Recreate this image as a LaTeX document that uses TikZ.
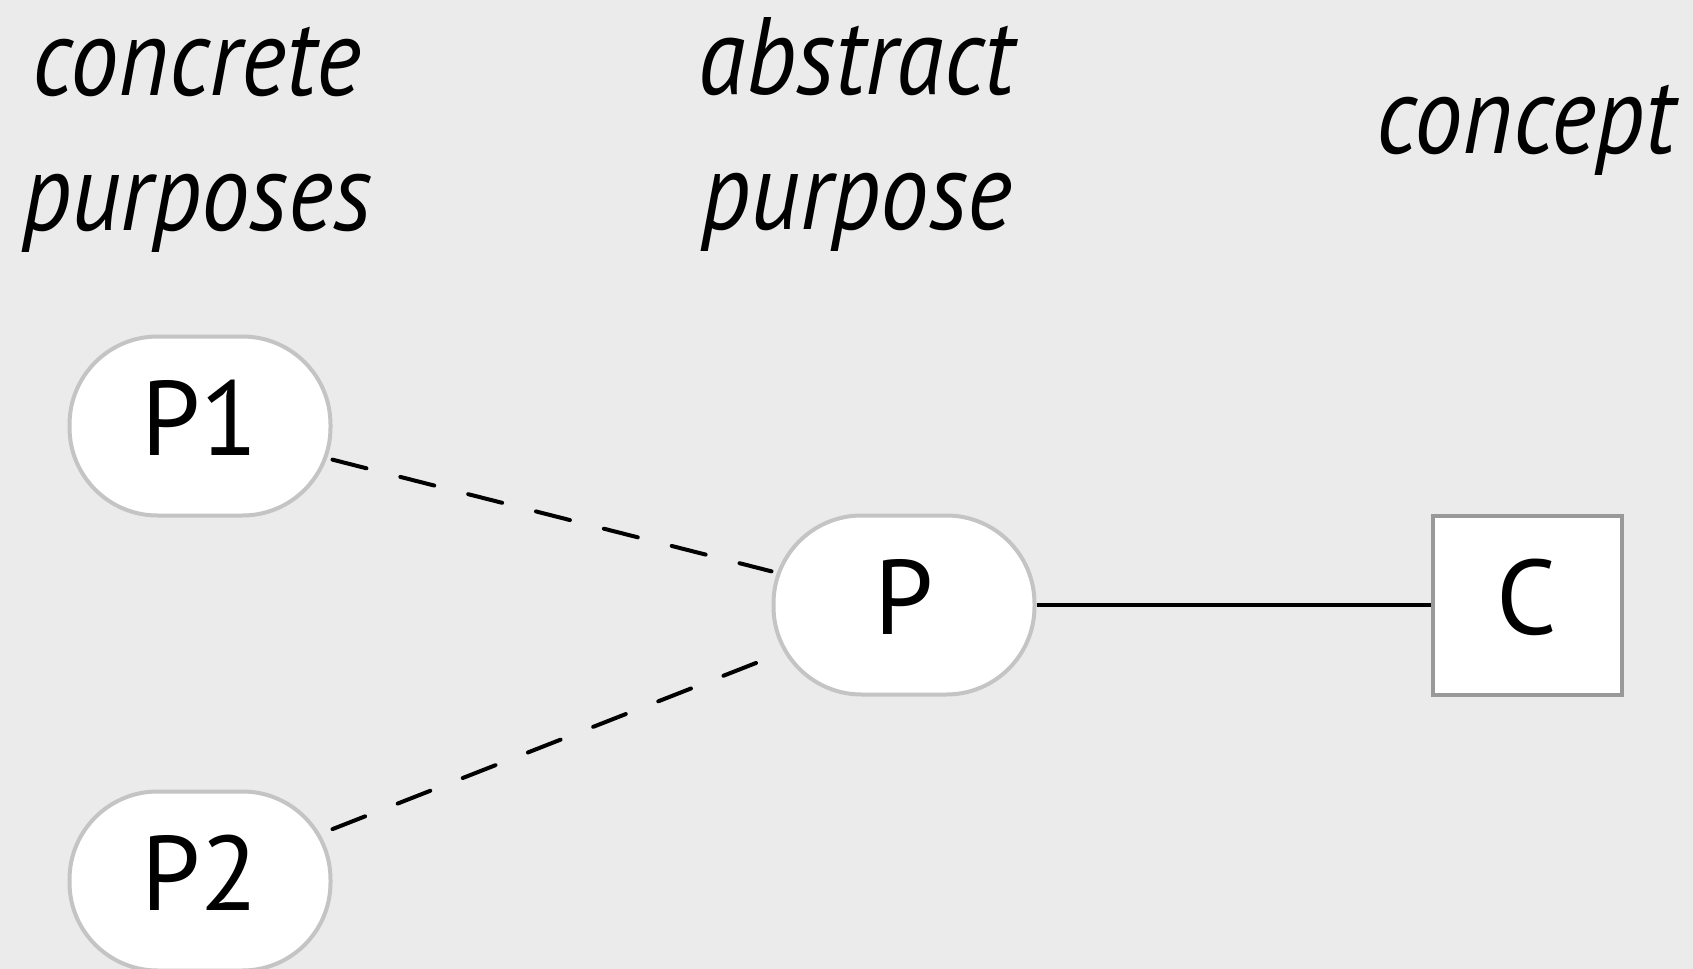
\documentclass[tikz,border=0pt]{standalone}
\usepackage{fontspec}
\setmainfont{PT Sans}
\newfontfamily\headfont[FakeStretch=0.88]{PT Sans}
\usetikzlibrary{positioning}
\definecolor{bggray}{RGB}{235,235,235}
\definecolor{purposeline}{RGB}{196,196,196}
\definecolor{conceptline}{RGB}{153,153,153}

\tikzset{
  purpose/.style={draw=purposeline,line width=2pt,fill=white,rounded corners=44pt,
        minimum width=130.5pt,minimum height=89.5pt,inner sep=0pt,
        text height=38pt,text depth=9pt,font=\fontsize{53}{60}\selectfont},
  conceptbox/.style={draw=conceptline,line width=2pt,fill=white,
        minimum width=94.5pt,minimum height=89.5pt,inner sep=0pt,
        text height=38pt,text depth=9pt,font=\fontsize{53}{60}\selectfont},
  heading/.style={align=center,anchor=base,font=\headfont\fontsize{55}{67.5}\selectfont\itshape},
  refines/.style={line width=2pt,line cap=round,dash pattern=on 17.5pt off 17.5pt},
  realizes/.style={line width=1.75pt},
}

\begin{document}
\begin{tikzpicture}[x=0.5pt,y=-0.5pt]
  %% Canvas
  \fill[bggray] (0,0) rectangle (1693,969);
  \useasboundingbox (0,0) rectangle (1693,969);
  %% Column headings (base = last line)
  \node[heading] (concreteHead) at (197,230) {concrete\\purposes};
  \node[heading] (abstractHead) at (857,229) {abstract\\purpose};
  \node[heading] (conceptHead) at (1526,153) {concept};
  %% Purposes
  \node[purpose] (p1) at (200,426) {P1};
  \node[purpose] (p2) at (200,881) {P2};
  \node[purpose] (p) at (904,605) {P};
  %% Concept
  \node[conceptbox] (c) at (1527,605) {C};
  %% Links
  \draw[refines] (p1) -- (p);
  \draw[refines] (p2) -- (p);
  \draw[realizes] (p) -- (c);
\end{tikzpicture}
\end{document}
